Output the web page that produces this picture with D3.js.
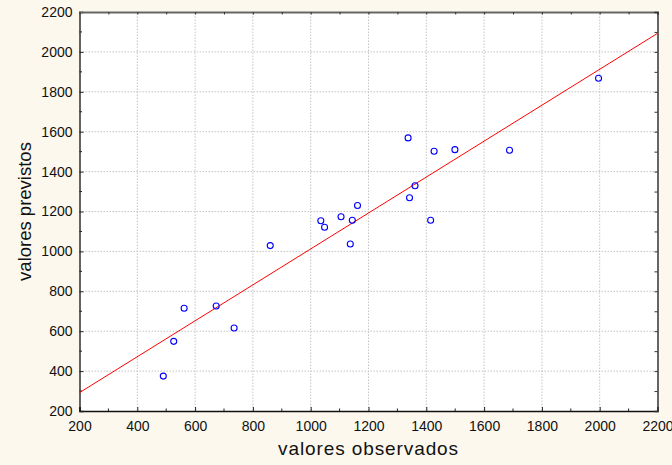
<!DOCTYPE html>
<html>
<head>
<meta charset="utf-8">
<script src="https://cdn.jsdelivr.net/npm/d3@7"></script>
<style>
html,body{margin:0;padding:0;background:#fcf8ee;}
svg{display:block;font-family:"Liberation Sans",Arial,sans-serif;}
</style>
</head>
<body>
<div id="chart"></div>
<script>
// valores
observados=[490,526,562,673,735,860,1035,1048,1105,1144,1137,1162,1337,1427,1499,1688,1361,1342,1415,1996];
previstos=[375,549,715,726,616,1029,1154,1121,1174,1156,1037,1230,1569,1502,1510,1507,1329,1269,1156,1868];
//reta ajustada (x, y)
retaX=[200,2200];
retaY=[292,2093];
xTicks=[200,400,600,800,1000,1200,1400,1600,1800,2000,2200];
yTicks=[200,400,600,800,1000,1200,1400,1600,1800,2000,2200];
xMinor=d3.range(300,2200,200);
yMinor=d3.range(300,2200,200);

width=672;
height=465;
margin={left:79.5,top:12,right:14.5,bottom:54};

main=function(){
	svg=d3.select('#chart').append('svg').attr('width',width).attr('height',height);

	x=d3.scaleLinear().domain([200,2200]).range([margin.left,width-margin.right]);
	y=d3.scaleLinear().domain([200,2200]).range([height-margin.bottom,margin.top]);

	//fundo branco da area do grafico
	svg.append('rect')
		.attr('x',x(200)).attr('y',y(2200))
		.attr('width',x(2200)-x(200)).attr('height',y(200)-y(2200))
		.attr('fill','#fff');

	//grade pontilhada
	grid=svg.append('g').attr('stroke','#c4c4c4').attr('stroke-dasharray','1.5,1.5').attr('stroke-width',1);
	grid.selectAll('.gx').data(xTicks.slice(1,-1)).enter().append('line')
		.attr('x1',function(d){return x(d)}).attr('x2',function(d){return x(d)})
		.attr('y1',y(200)).attr('y2',y(2200));
	grid.selectAll('.gy').data(yTicks.slice(1,-1)).enter().append('line')
		.attr('y1',function(d){return y(d)}).attr('y2',function(d){return y(d)})
		.attr('x1',x(200)).attr('x2',x(2200));

	//eixos
	axB=svg.append('g').attr('transform','translate(0,'+y(200)+')')
		.call(d3.axisBottom(x).tickValues(xTicks).tickSize(-4).tickPadding(10).tickFormat(d3.format('d')));
	axB.append('g').selectAll('line').data(xMinor).enter().append('line')
		.attr('x1',function(d){return x(d)}).attr('x2',function(d){return x(d)})
		.attr('y1',0).attr('y2',-2.5).attr('stroke','#222');
	axL=svg.append('g').attr('transform','translate('+x(200)+',0)')
		.call(d3.axisLeft(y).tickValues(yTicks).tickSize(-4).tickPadding(7).tickFormat(d3.format('d')));
	axL.append('g').selectAll('line').data(yMinor).enter().append('line')
		.attr('y1',function(d){return y(d)}).attr('y2',function(d){return y(d)})
		.attr('x1',0).attr('x2',2.5).attr('stroke','#222');
	axT=svg.append('g').attr('transform','translate(0,'+y(2200)+')')
		.call(d3.axisTop(x).tickValues(xTicks.concat(xMinor)).tickSize(-2.5).tickFormat(''));
	axR=svg.append('g').attr('transform','translate('+x(2200)+',0)')
		.call(d3.axisRight(y).tickValues(yTicks.concat(yMinor)).tickSize(-3).tickFormat(''));

	[axB,axL].forEach(function(a){
		a.selectAll('text').attr('font-size',14).attr('fill','#111').attr('font-family','"Liberation Sans",Arial,sans-serif');
		a.selectAll('.tick line').attr('stroke','#222');
		a.select('.domain').attr('stroke','#111').attr('stroke-width',1.3);
	});
	axT.select('.domain').attr('stroke','#666').attr('stroke-width',2);
	axR.select('.domain').attr('stroke','#333').attr('stroke-width',1.5);
	[axT,axR].forEach(function(a){a.selectAll('.tick line').attr('stroke','#333');});

	//reta de regressao
	svg.append('line')
		.attr('x1',x(retaX[0])).attr('y1',y(retaY[0]))
		.attr('x2',x(retaX[1])).attr('y2',y(retaY[1]))
		.attr('stroke','#ff0000').attr('stroke-width',1);

	//pontos
	svg.append('g').selectAll('circle').data(observados).enter().append('circle')
		.attr('cx',function(d){return x(d)})
		.attr('cy',function(d,i){return y(previstos[i])})
		.attr('r',3)
		.attr('fill','none').attr('stroke','#0000ff').attr('stroke-width',1.1);

	//titulos dos eixos
	svg.append('text').text('valores observados')
		.attr('x',(x(200)+x(2200))/2).attr('y',455)
		.attr('text-anchor','middle').attr('font-size',19).attr('letter-spacing',0.9).attr('fill','#111');
	svg.append('text').text('valores previstos')
		.attr('transform','translate(30.5,'+((y(200)+y(2200))/2)+')rotate(-90)')
		.attr('text-anchor','middle').attr('font-size',18.5).attr('fill','#111');
};

main();
</script>
</body>
</html>
